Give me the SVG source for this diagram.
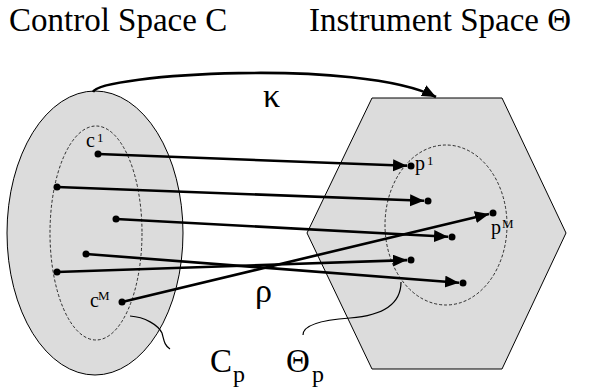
<svg xmlns="http://www.w3.org/2000/svg" width="590" height="387" viewBox="0 0 590 387">
<style>
text{font-family:"Liberation Serif","Times New Roman",serif;fill:#000}
.shape{fill:#dcdcdc;stroke:#000;stroke-width:1}
.dash{fill:none;stroke:#000;stroke-width:0.8;stroke-dasharray:3,2}
.conn{fill:none;stroke:#000;stroke-width:2.6;marker-end:url(#ah)}
.thin{fill:none;stroke:#000;stroke-width:1.2}
.dot{fill:#000}
</style>
<defs>
<marker id="ah" markerUnits="userSpaceOnUse" markerWidth="16" markerHeight="14" refX="14" refY="6" orient="auto">
<path d="M0,0 L14,6 L0,12 z" fill="#000"/>
</marker>
</defs>
<text x="9" y="31" font-size="33">Control Space C</text>
<text x="309" y="31" font-size="33">Instrument Space Θ</text>
<g id="control-space">
<ellipse class="shape" cx="95" cy="233" rx="88" ry="142"/>
</g>
<g id="instrument-space">
<polygon class="shape" points="372,98 502,98 566,233 502,369 372,369 307,233"/>
</g>
<g id="Cp">
<ellipse class="dash" cx="96" cy="233" rx="46" ry="107"/>
</g>
<g id="Thetap">
<ellipse class="dash" cx="446" cy="225" rx="61" ry="80"/>
</g>
<g id="points-c">
<circle class="dot" cx="98" cy="154" r="3.5"/>
<circle class="dot" cx="57" cy="187" r="3.5"/>
<circle class="dot" cx="116" cy="219" r="3.5"/>
<circle class="dot" cx="86" cy="254" r="3.5"/>
<circle class="dot" cx="57" cy="272" r="3.5"/>
<circle class="dot" cx="122" cy="302" r="3.5"/>
<text x="86" y="147" font-size="20">c</text>
<text x="97" y="142" font-size="13">1</text>
<text x="90" y="307" font-size="20">c</text>
<text x="98" y="300" font-size="13">M</text>
</g>
<g id="points-p">
<circle class="dot" cx="411" cy="166" r="3.5"/>
<circle class="dot" cx="428" cy="201" r="3.5"/>
<circle class="dot" cx="452" cy="237" r="3.5"/>
<circle class="dot" cx="411" cy="260" r="3.5"/>
<circle class="dot" cx="463" cy="283" r="3.5"/>
<circle class="dot" cx="493" cy="213" r="3.5"/>
<text x="415" y="170" font-size="20">p</text>
<text x="427" y="165" font-size="13">1</text>
<text x="491" y="234" font-size="20">p</text>
<text x="502" y="228" font-size="13">M</text>
</g>
<g id="connectors">
<path d="M93,92 C100,74 360,58 436,97" fill="none" stroke="#000" stroke-width="2.6" marker-end="url(#ah)"/>
<line class="conn" x1="98" y1="154" x2="407" y2="165.8"/>
<line class="conn" x1="57" y1="187" x2="424" y2="200.8"/>
<line class="conn" x1="116" y1="219" x2="448" y2="236.8"/>
<line class="conn" x1="86" y1="254" x2="459" y2="282.7"/>
<line class="conn" x1="57" y1="272" x2="407" y2="260.1"/>
<line class="conn" x1="122" y1="302" x2="489" y2="213.9"/>
<path class="thin" d="M130,316 C145,317 158,325 162,333 C164,340 164,345 170,349"/>
<path class="thin" d="M303,335 C303,325 320,320 350,318 C390,315 401,300 401,282"/>
</g>
<text x="263" y="107" font-size="34">κ</text>
<text x="255" y="302" font-size="34">ρ</text>
<text x="210" y="372" font-size="33">C</text>
<text x="233" y="382" font-size="24">p</text>
<text x="286" y="372" font-size="33">Θ</text>
<text x="312" y="382" font-size="24">p</text>
</svg>
